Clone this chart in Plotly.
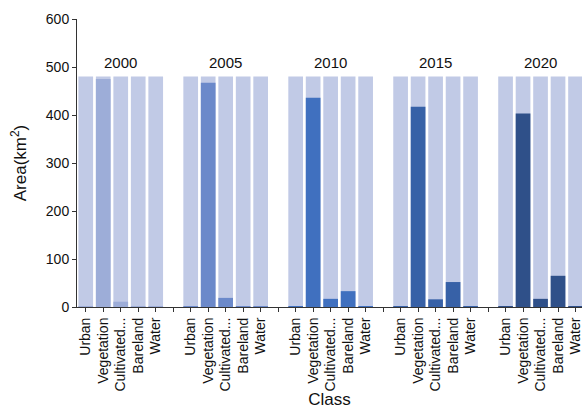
import plotly.graph_objects as go

years = ["2000", "2005", "2010", "2015", "2020"]
classes = ["Urban", "Vegetation", "Cultivated...", "Bareland", "Water"]
background_value = 480
values_2000 = [1, 475, 11, 1, 1]
values_2005 = [2, 467, 19, 1, 2]
values_2010 = [2, 436, 17, 33, 2]
values_2015 = [2, 417, 16, 52, 1]
values_2020 = [2, 403, 17, 65, 2]
year_values = [values_2000, values_2005, values_2010, values_2015, values_2020]
year_colors = ["#9dadd8", "#6b89ca", "#4070bf", "#3761a7", "#2f5089"]
bg_color = "#c1cae6"

slots_per_group = len(classes) + 1

fig = go.Figure()
tickvals, ticktext = [], []
for gi, (yr, vals, col) in enumerate(zip(years, year_values, year_colors)):
    xs = [gi * slots_per_group + i for i in range(len(classes))]
    fig.add_trace(go.Bar(x=xs, y=[background_value] * len(classes), width=0.84,
                         marker=dict(color=bg_color, line=dict(width=0)),
                         showlegend=False, hoverinfo="skip"))
    fig.add_trace(go.Bar(x=xs, y=vals, width=0.84,
                         marker=dict(color=col, line=dict(width=0)),
                         showlegend=False, name=yr))
    fig.add_annotation(x=gi * slots_per_group + 2, y=510, text=yr, showarrow=False,
                       font=dict(size=15, color="#111111"), yanchor="middle")
    for i in range(slots_per_group):
        tickvals.append(gi * slots_per_group + i)
        ticktext.append(classes[i] if i < len(classes) else "")

fig.update_layout(
    width=582, height=409,
    margin=dict(l=77, r=0, t=19, b=102),
    barmode="overlay",
    plot_bgcolor="white", paper_bgcolor="white",
    font=dict(family="Liberation Sans, Arial", size=14, color="#111111"),
)
fig.update_xaxes(range=[-0.5, 28.37], tickmode="array", tickvals=tickvals, ticktext=ticktext,
                 tickangle=-90, ticks="outside", ticklen=4, tickcolor="#333333",
                 showline=True, linecolor="#333333", linewidth=1, showgrid=False,
                 automargin=False, ticklabeloverflow="allow",
                 title=dict(text="Class", font=dict(size=17), standoff=4), tickfont=dict(size=14))
fig.update_yaxes(range=[0, 600], dtick=100, ticks="outside", ticklen=4, tickcolor="#333333",
                 showline=True, linecolor="#333333", linewidth=1, showgrid=False, zeroline=False,
                 automargin=False,
                 title=dict(text="Area(km<sup>2</sup>)", font=dict(size=17), standoff=14),
                 tickfont=dict(size=14))

fig.write_html("out.html", config={"displayModeBar": False},
               post_script="document.body.style.margin='0';document.body.style.overflow='hidden';")
